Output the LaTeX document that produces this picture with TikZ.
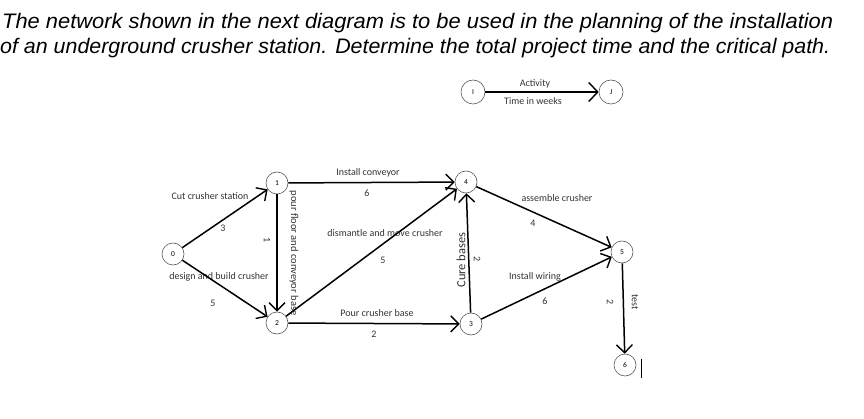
\documentclass[tikz,border=0pt]{standalone}
\usepackage{fontspec}
\usepackage{graphicx}
\setmainfont{Carlito}
\newfontfamily\titlefont{Liberation Sans}
\usetikzlibrary{arrows.meta}
\begin{document}
\begin{tikzpicture}[x=1pt,y=-1pt,
  ev/.style={circle,draw=black!65,line width=0.6pt,minimum size=22pt,inner sep=0pt,font=\fontsize{7.5}{8}\selectfont},
  act/.style={line width=1.5pt,-{Straight Barb[length=8pt,width=16pt,line width=1.4pt]}},
  lab/.style={font=\fontsize{10}{12}\selectfont,text=black!80,inner sep=0pt},
  vlab/.style={font=\fontsize{10.5}{12}\selectfont,text=black!80,inner sep=0pt},
  ttl/.style={anchor=base west,inner sep=0pt,font=\titlefont\itshape\fontsize{21}{24}\selectfont},
]
\useasboundingbox (0,0) rectangle (864,419);
\node[ttl] (t1) at (2,29) {\resizebox{831pt}{\height}{The network shown in the next diagram is to be used in the planning of the installation}};
\node[ttl] (t2) at (0,54) {\resizebox{830pt}{\height}{of an underground crusher station. Determine the total project time and the critical path.}};
% events
\node[ev] (n0) at (173,254) {0};
\node[ev] (n1) at (277,183) {1};
\node[ev] (n2) at (277,323) {2};
\node[ev] (n4) at (466,182) {4};
\node[ev] (n3) at (471,324) {3};
\node[ev] (n5) at (622,252) {5};
\node[ev] (n6) at (625,365) {6};
\node[ev,minimum size=24pt] (nI) at (473,92) {I};
\node[ev,minimum size=24pt] (nJ) at (611,92) {J};
% labels
\node[lab] (l01) at (210,196) {Cut crusher station};
\node[lab] (d01) at (223,228) {3};
\node[lab] (l02) at (219,277) {design and build crusher};
\node[lab] (d02) at (213,303) {5};
\node[lab,rotate=-90] (d12) at (267,240) {1};
\node[vlab,rotate=-90] (l12) at (294,253) {pour floor and conveyor base};
\node[lab] (l14) at (368,173) {Install conveyor};
\node[lab] (d14) at (367,193) {6};
\node[lab] (l24) at (385,233) {dismantle and move crusher};
\node[lab] (d24) at (383,260) {5};
\node[lab] (l23) at (377,313) {Pour crusher base};
\node[lab] (d23) at (374,334) {2};
\node[vlab,rotate=90,font=\fontsize{12.5}{14}\selectfont] (l34) at (461,260) {Cure bases};
\node[lab,rotate=-90] (d34) at (477,259) {2};
\node[lab] (l45) at (557,198) {assemble crusher};
\node[lab] (d45) at (533,223) {4};
\node[lab] (l35) at (535,277) {Install wiring};
\node[lab] (d35) at (545,301) {6};
\node[lab,rotate=-90] (l56) at (635,302) {test};
\node[lab,rotate=-90] (d56) at (610,302) {2};
\node[lab] (lIJ) at (535,84) {Activity};
\node[lab] (dIJ) at (533,101) {Time in weeks};
% activities
\draw[act] (n0) -- (n1);
\draw[act] (n0) -- (n2);
\draw[act] (n1) -- (n2);
\draw[act] (n1) -- (n4);
\draw[act] (n2) -- (n4);
\draw[act] (n2) -- (n3);
\draw[act] (n3) -- (n4);
\draw[act] (n4) -- (n5);
\draw[act] (n3) -- (n5);
\draw[act] (n5) -- (n6);
\draw[act,-{Straight Barb[length=9pt,width=19pt,line width=1.4pt]}] (nI) -- (nJ);
% cursor bar
\coordinate (c1) at (641,359);
\coordinate (c2) at (641,378);
\draw[line width=0.8pt] (c1) -- (c2);
\end{tikzpicture}
\end{document}
